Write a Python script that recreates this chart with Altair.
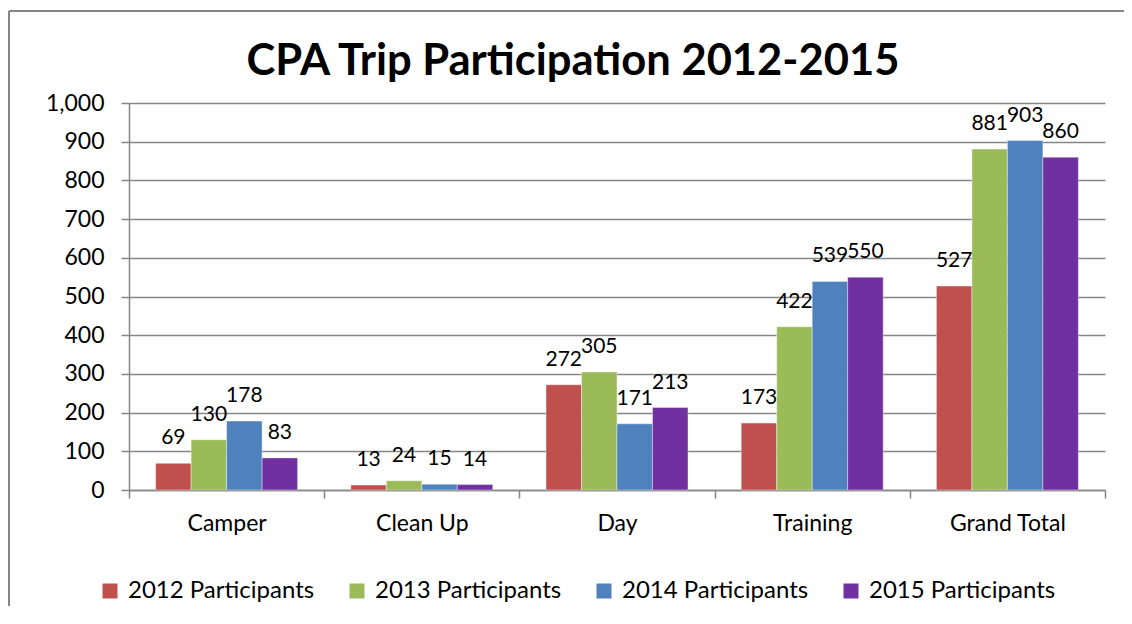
import altair as alt
import pandas as pd

categories = ["Camper", "Clean Up", "Day", "Training", "Grand Total"]
series = ["2012 Participants", "2013 Participants", "2014 Participants", "2015 Participants"]
v2012 = [69, 13, 272, 173, 527]
v2013 = [130, 24, 305, 422, 881]
v2014 = [178, 15, 171, 539, 903]
v2015 = [83, 14, 213, 550, 860]
colors = ["#C0504D", "#9BBB59", "#4F81BD", "#7030A0"]
y_ticks = [0, 100, 200, 300, 400, 500, 600, 700, 800, 900, 1000]

rows = []
for s, vals in zip(series, [v2012, v2013, v2014, v2015]):
    for c, v in zip(categories, vals):
        rows.append({"category": c, "series": s, "value": v})
df = pd.DataFrame(rows)

W, H = 976, 387
FONT = "Lato"
GRAY = "#868686"

x_enc = alt.X(
    "category:N", sort=categories,
    scale=alt.Scale(paddingInner=0, paddingOuter=0),
    axis=alt.Axis(title=None, labelAngle=0, tickBand="extent", tickSize=8,
                  labelPadding=14, labelFontSize=23, labelFont=FONT,
                  labelColor="black", domainColor=GRAY, tickColor=GRAY,
                  domainWidth=1.5, tickWidth=1.5, grid=False),
)
xo_enc = alt.XOffset("series:N", sort=series,
                     scale=alt.Scale(paddingInner=0, paddingOuter=0.75))
y_enc = alt.Y(
    "value:Q", scale=alt.Scale(domain=[0, 1000], nice=False),
    axis=alt.Axis(title=None, values=y_ticks, format=",.0f", tickSize=8,
                  labelPadding=17, labelFontSize=23, labelFont=FONT,
                  labelColor="black", domainColor=GRAY, tickColor=GRAY,
                  domainWidth=1.5, tickWidth=1.5, grid=True,
                  gridColor=GRAY, gridWidth=1.5),
)

bars = alt.Chart(df).mark_bar(stroke="white", strokeWidth=0.4).encode(
    x=x_enc, xOffset=xo_enc, y=y_enc,
    color=alt.Color(
        "series:N", sort=series,
        scale=alt.Scale(domain=series, range=colors),
        legend=alt.Legend(
            title=None, orient="none", legendX=-31, legendY=476,
            direction="horizontal", columns=4, gridAlign="all",
            columnPadding=30, symbolType="square", symbolSize=225,
            symbolStrokeWidth=0, labelFontSize=24, labelFont=FONT,
            labelColor="black", labelOffset=6, labelLimit=300,
        ),
    ),
)

labels = alt.Chart(df).mark_text(
    dy=-19, baseline="alphabetic", fontSize=21, font=FONT, color="black"
).encode(x=x_enc, xOffset=xo_enc, y=y_enc, text=alt.Text("value:Q"))

one = pd.DataFrame({"a": [0]})
frame_top = alt.Chart(one).mark_rule(stroke=GRAY, strokeWidth=2).encode(
    x=alt.value(-120), x2=alt.value(W + 19), y=alt.value(-92)
)
frame_left = alt.Chart(one).mark_rule(stroke=GRAY, strokeWidth=2).encode(
    x=alt.value(-120), y=alt.value(-92), y2=alt.value(H + 120)
)

chart = alt.layer(frame_top, frame_left, bars, labels).properties(
    width=W, height=H,
    title=alt.Title("CPA Trip Participation 2012-2015", fontSize=43.5,
                    font=FONT, fontWeight="bold", color="black",
                    anchor="middle", offset=0, baseline="alphabetic",
                    dy=108, dx=-44),
    autosize=alt.AutoSizeParams(type="none"),
    padding={"left": 121, "top": 95, "right": 19, "bottom": 116},
).configure_view(strokeWidth=0)

chart.save("out.html", embed_options={"renderer": "svg", "actions": False})
